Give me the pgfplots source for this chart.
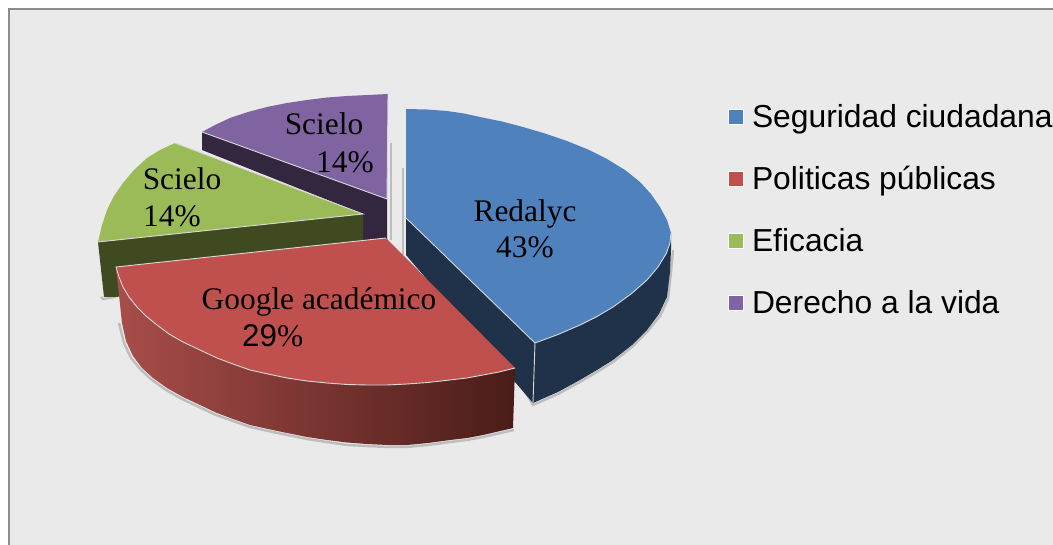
\documentclass[border=0pt]{standalone}
\usepackage{pgfplots}
\pgfplotsset{compat=1.18}
\usepackage{fontspec}
\setmainfont{Liberation Serif}
\newfontfamily\arialf{Liberation Sans}
\definecolor{bg}{HTML}{EAEAEA}
\definecolor{frame}{HTML}{8C8C8C}
\definecolor{cblue}{HTML}{4F81BD}
\definecolor{cred}{HTML}{C0504D}
\definecolor{cgreen}{HTML}{9BBB59}
\definecolor{cpurple}{HTML}{8064A2}
\definecolor{wblue}{HTML}{1F324A}
\definecolor{wgreen}{HTML}{3F4A20}
\definecolor{wpurple}{HTML}{32273F}
\definecolor{wredL}{HTML}{A84D4A}
\definecolor{wredR}{HTML}{4A1C18}
\definecolor{edge}{HTML}{D8D8D8}
\definecolor{shad}{HTML}{BDBDBD}
\tikzset{lab/.style={anchor=base, inner sep=0pt, font=\fontsize{31.4}{34}\selectfont}}
\begin{document}
\begin{tikzpicture}
\begin{axis}[
  scale only axis, width=1053pt, height=545pt,
  xmin=0, xmax=1053, ymin=0, ymax=545, y dir=reverse,
  hide axis, clip=true,
  every axis plot/.append style={forget plot},
  legend cell align=left,
  legend image code/.code={\path[#1,draw=white,line width=.5pt] (0pt,-7.5pt) rectangle (15pt,7.5pt);},
  legend style={at={(0.6909,0.8091)}, anchor=north west, draw=none, fill=none,
    font=\fontsize{31.8}{34}\selectfont\arialf, row sep=37.6pt, inner sep=0pt, outer sep=0pt,
    nodes={inner sep=0pt, outer sep=0pt}},
]
% page, background and frame
\addplot[fill=white, draw=none] coordinates {(0,0)(1053,0)(1053,545)(0,545)} --cycle;
\addplot[fill=bg, draw=none] coordinates {(9,9)(1053,9)(1053,545)(9,545)} --cycle;
\addplot[draw=frame, line width=1.6pt] coordinates {(9,545)(9,9)(1053,9)};
% soft shadows
\addplot[draw=shad, line width=2pt] coordinates {(390.5,143)(390.5,240)};
\addplot[draw=shad, line width=2pt] coordinates {(403,168)(403,255)};
\addplot[draw=shad, line width=2.2pt] coordinates {(101,297)(103,299)(116,297)};
\addplot[draw=shad, line width=2.4pt] coordinates {(119,323)(124,343)(131,358)(141,370)(152,380)(166,390)(182,399)(199,407)(216,415)(233,421)(250,427)(268,431)(287,435)(307,439)(327,442)(347,445)(367,446)(387,447)(407,447)(428,445)(450,442)(467,440)(483,437)(514,430)};
\addplot[draw=shad, line width=2.4pt] coordinates {(514,372)(533,405)(558,394)(580,382)(597,372)(613,362)(632,347)(647,332)(660,316)(668,299)(671,272)(673,250)};
% purple slice
\addplot[fill=wpurple, draw=none] coordinates {(202,132)(387,199)(387,240)(363,240)(363,214)(202,150)} --cycle;
\addplot[fill=cpurple, draw=none] coordinates {(202,132)(215,125)(230,118)(248,112)(267,107)(287,103)(307,100)(327,97.5)(347,96)(368,95)(388,94)(387,199)} --cycle;
\addplot[draw=edge, line width=.9pt] coordinates {(202,132)(387,199)(388,94)};
% green slice
\addplot[fill=wgreen, draw=none] coordinates {(98,242)(363,214)(363,265)(116,297)(104,297)} --cycle;
\addplot[fill=cgreen, draw=none] coordinates {(175,143)(160,150)(147,158)(134,170)(123,183)(114,196)(107,210)(102,225)(98,242)(363,214)} --cycle;
\addplot[draw=edge, line width=.9pt] coordinates {(98,242)(363,214)(175,143)};
% blue slice
\addplot[fill=wblue, draw=none] coordinates {(406,218)(535,343)(533,403)(406,255)} --cycle;
\addplot[fill=wblue, draw=none] coordinates {(671,233)(667,253)(647,280)(613,307)(580,325)(535,343)(533,403)(558,392)(580,380)(597,370)(613,360)(632,345)(647,330)(659,314)(667,297)(670,272)(671,250)} --cycle;
\addplot[fill=cblue, draw=none] coordinates {(406,109)(427,109.5)(447,111)(464,113.5)(480,117)(502,121.5)(523,127)(545,133.5)(567,141)(588,149.5)(607,159)(625,170)(640,182)(651,194)(660,207)(667,220)(671,233)(670,243)(666,254)(658,267)(647,280)(631,294)(613,307)(597,316.5)(580,325)(558,334.5)(535,343)(406,218)} --cycle;
\addplot[draw=edge, line width=.9pt] coordinates {(406,218)(535,343)(558,334.5)(580,325)(597,316.5)(613,307)(631,294)(647,280)(658,267)(666,254)(670,243)(671,233)};
\addplot[draw=edge, line width=.9pt] coordinates {(535,343)(533,403)};
% red slice
\addplot[left color=wredL, right color=wredR, draw=none] coordinates {(116,267)(123,287)(137,307)(157,325)(183,342)(217,358)(250,370)(287,378)(327,383)(367,385)(407,384)(450,380)(483,375)(515,368)(513,428)(483,435)(467,438)(450,440)(428,443)(407,445)(387,445)(367,444)(347,442.5)(327,440)(307,437)(287,433)(268,429)(250,425)(233,419)(217,413)(200,405)(183,397)(167,388)(153,378)(142,368)(133,356)(126,341)(122,323)} --cycle;
\addplot[fill=cred, draw=none] coordinates {(386,238)(116,267)(119,277)(123,287)(129,297)(137,307)(146,316)(157,325)(169,334)(183,342)(200,350)(217,358)(233,364)(250,370)(268,374)(287,378)(307,381)(327,383)(347,384.5)(367,385)(387,385)(407,384)(428,382.5)(450,380)(467,378)(483,375)(499,372)(515,368)} --cycle;
\addplot[draw=edge, line width=.9pt] coordinates {(386,238)(116,267)(119,277)(123,287)(129,297)(137,307)(146,316)(157,325)(169,334)(183,342)(200,350)(217,358)(233,364)(250,370)(268,374)(287,378)(307,381)(327,383)(347,384.5)(367,385)(387,385)(407,384)(428,382.5)(450,380)(467,378)(483,375)(499,372)(515,368)};
% data labels
\node[lab] at (axis cs:525,222) {Redalyc};
\node[lab] at (axis cs:525,258) {43\%};
\node[lab] at (axis cs:324,135) {Scielo};
\node[lab] at (axis cs:345,173) {14\%};
\node[lab] at (axis cs:182,190) {Scielo};
\node[lab] at (axis cs:172,227) {14\%};
\node[lab] at (axis cs:319,310) {Google académico};
\node[lab, anchor=base west] at (axis cs:242,347) {{\arialf 29}\%};
% legend
\addlegendimage{fill=cblue}\addlegendentry{\hspace*{9pt}Seguridad ciudadana}
\addlegendimage{fill=cred}\addlegendentry{\hspace*{9pt}Politicas públicas}
\addlegendimage{fill=cgreen}\addlegendentry{\hspace*{9pt}Eficacia}
\addlegendimage{fill=cpurple}\addlegendentry{\hspace*{9pt}Derecho a la vida}
\end{axis}
\end{tikzpicture}
\end{document}
